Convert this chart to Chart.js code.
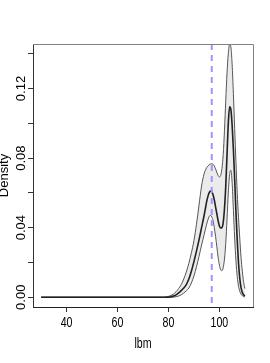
<!DOCTYPE html>
<html>
<head>
<meta charset="utf-8">
<script src="https://cdn.jsdelivr.net/npm/chart.js@4.4.0/dist/chart.umd.min.js"></script>
<style>
    html, body { margin: 0; padding: 0; background: #fff; }
    #myChart { display: block; }
</style>
</head>
<body>
<canvas id="myChart" width="270" height="363"></canvas>
<script>
// lbm grid (x) and the density estimate with its band
var lbm = [30, 40, 50, 60, 70, 78, 79,
    80, 81, 82, 83, 84, 85, 86, 87, 88, 89, 90, 91, 92, 93, 94,
    94.5, 95, 95.5, 96, 96.5, 97, 97.5, 98, 98.5, 99, 99.5, 100, 100.5, 101, 101.5, 102,
    102.5, 103, 103.5, 104, 104.5, 105, 105.5, 106, 106.5, 107, 107.5, 108, 108.5, 109, 109.5, 110];
var densMid = [0, 0, 0, 0, 0, 0, 0,
    0.0001, 0.0003, 0.0007, 0.0014, 0.0025, 0.0038, 0.0053, 0.0073, 0.0105, 0.015, 0.0205, 0.0265, 0.033, 0.040, 0.047,
    0.051, 0.055, 0.058, 0.0602, 0.061, 0.0605, 0.059, 0.056, 0.052, 0.048, 0.044, 0.041, 0.0398, 0.040, 0.043, 0.051,
    0.064, 0.082, 0.100, 0.1095, 0.108, 0.099, 0.085, 0.068, 0.049, 0.033, 0.020, 0.011, 0.0055, 0.0028, 0.0014, 0.0007];
var densHigh = [0, 0, 0, 0, 0, 0, 0.0002,
    0.0005, 0.001, 0.0019, 0.0032, 0.005, 0.0072, 0.0105, 0.0145, 0.0195, 0.0255, 0.0325, 0.042, 0.053, 0.064, 0.071,
    0.073, 0.0745, 0.0755, 0.0762, 0.0766, 0.0768, 0.0765, 0.0755, 0.0738, 0.0718, 0.070, 0.0692, 0.070, 0.074, 0.082, 0.096,
    0.113, 0.129, 0.140, 0.1455, 0.144, 0.134, 0.117, 0.097, 0.078, 0.060, 0.046, 0.034, 0.023, 0.015, 0.009, 0.005];
var densLow = [0, 0, 0, 0, 0, 0, 0,
    0, 0, 0.0001, 0.0003, 0.0007, 0.0014, 0.0024, 0.0037, 0.0053, 0.0082, 0.0122, 0.0175, 0.0235, 0.030, 0.036,
    0.039, 0.042, 0.0445, 0.0465, 0.047, 0.0462, 0.044, 0.040, 0.035, 0.029, 0.023, 0.0185, 0.0158, 0.0153, 0.017, 0.022,
    0.031, 0.045, 0.060, 0.0705, 0.073, 0.066, 0.050, 0.034, 0.021, 0.012, 0.0065, 0.0035, 0.0018, 0.0009, 0.0004, 0.0002];
var cutoff = 97;

var xRange = [26.8, 113.2];
var yRange = [-0.0056, 0.1456];
var xTicks = [40, 60, 80, 100];
var yTicks = [0, 0.02, 0.04, 0.06, 0.08, 0.10, 0.12, 0.14];
var yLabelTicks = [0, 0.04, 0.08, 0.12];

var fontRegular = "'Liberation Sans', Arial, sans-serif";

function puntos(ys) {
    var res = [];
    for (var i = 0; i < lbm.length; i++) {
        res.push({ x: lbm[i], y: ys[i] });
    }
    return res;
}

// texto horizontal estrecho, como el del grafico original
function textoEstrecho(ctx, texto, x, y) {
    ctx.save();
    ctx.translate(x, y);
    ctx.scale(0.76, 1);
    ctx.fillText(texto, 0, 0);
    ctx.restore();
}

// R-like extras: box, rotated y labels, y title, dashed cutoff
var estiloR = {
    id: 'estiloR',
    afterDatasetsDraw: function (chart) {
        var ctx = chart.ctx;
        var area = chart.chartArea;
        var px = chart.scales.x.getPixelForValue(cutoff);
        ctx.save();
        ctx.beginPath();
        ctx.rect(area.left, area.top, area.right - area.left, area.bottom - area.top);
        ctx.clip();
        ctx.strokeStyle = '#9f94ff';
        ctx.lineWidth = 2;
        ctx.setLineDash([6, 5]);
        ctx.beginPath();
        ctx.moveTo(px, area.top);
        ctx.lineTo(px, area.bottom);
        ctx.stroke();
        ctx.restore();
    },
    afterDraw: function (chart) {
        var ctx = chart.ctx;
        var area = chart.chartArea;
        var xScale = chart.scales.x;
        var yScale = chart.scales.y;
        ctx.save();
        ctx.strokeStyle = '#808080';
        ctx.lineWidth = 1;
        ctx.beginPath();
        ctx.moveTo(area.left, area.top + 0.5);
        ctx.lineTo(area.right + 0.5, area.top + 0.5);
        ctx.lineTo(area.right + 0.5, area.bottom);
        ctx.stroke();

        ctx.fillStyle = '#000';
        ctx.textAlign = 'center';
        ctx.textBaseline = 'alphabetic';

        ctx.font = '14px ' + fontRegular;
        xTicks.forEach(function (v) {
            textoEstrecho(ctx, String(v), xScale.getPixelForValue(v), 326.5);
        });
        textoEstrecho(ctx, 'lbm', (area.left + area.right) / 2, 348);

        ctx.font = '13px ' + fontRegular;
        yLabelTicks.forEach(function (v) {
            var py = yScale.getPixelForValue(v);
            ctx.save();
            ctx.translate(25, py);
            ctx.rotate(-Math.PI / 2);
            ctx.fillText(v.toFixed(2), 0, 0);
            ctx.restore();
        });
        ctx.save();
        ctx.translate(8, (area.top + area.bottom) / 2);
        ctx.rotate(-Math.PI / 2);
        ctx.fillText('Density', 0, 0);
        ctx.restore();
        ctx.restore();
    }
};

function construirGrafica() {
    var ctx = document.getElementById('myChart').getContext('2d');
    new Chart(ctx, {
        type: 'line',
        data: {
            datasets: [
                {
                    label: 'density',
                    data: puntos(densMid),
                    borderColor: '#222',
                    borderWidth: 1.6,
                    pointRadius: 0,
                    fill: false,
                    cubicInterpolationMode: 'monotone'
                },
                {
                    label: 'lower',
                    data: puntos(densLow),
                    borderColor: '#555',
                    borderWidth: 1,
                    pointRadius: 0,
                    fill: false,
                    cubicInterpolationMode: 'monotone'
                },
                {
                    label: 'upper',
                    data: puntos(densHigh),
                    borderColor: '#555',
                    borderWidth: 1,
                    pointRadius: 0,
                    backgroundColor: '#ebebeb',
                    fill: 1,
                    cubicInterpolationMode: 'monotone'
                }
            ]
        },
        options: {
            responsive: false,
            animation: false,
            layout: { padding: { top: 44, right: 17, left: 0, bottom: 0 } },
            plugins: {
                legend: { display: false },
                tooltip: { enabled: false }
            },
            scales: {
                x: {
                    type: 'linear',
                    min: xRange[0],
                    max: xRange[1],
                    afterBuildTicks: function (scale) {
                        scale.ticks = xTicks.map(function (v) { return { value: v }; });
                    },
                    afterFit: function (scale) { scale.height = 56; },
                    ticks: {
                        autoSkip: false,
                        maxRotation: 0,
                        minRotation: 0,
                        callback: function () { return ''; }
                    },
                    grid: {
                        drawOnChartArea: false,
                        drawTicks: true,
                        tickLength: 5,
                        color: '#333'
                    },
                    border: { display: true, color: '#222', width: 1 }
                },
                y: {
                    type: 'linear',
                    min: yRange[0],
                    max: yRange[1],
                    afterBuildTicks: function (scale) {
                        scale.ticks = yTicks.map(function (v) { return { value: v }; });
                    },
                    afterFit: function (scale) { scale.width = 33; },
                    ticks: {
                        autoSkip: false,
                        callback: function () { return ''; }
                    },
                    grid: {
                        drawOnChartArea: false,
                        drawTicks: true,
                        tickLength: 5,
                        color: '#333'
                    },
                    border: { display: true, color: '#333', width: 1 }
                }
            }
        },
        plugins: [estiloR]
    });
}

construirGrafica();
</script>
</body>
</html>
